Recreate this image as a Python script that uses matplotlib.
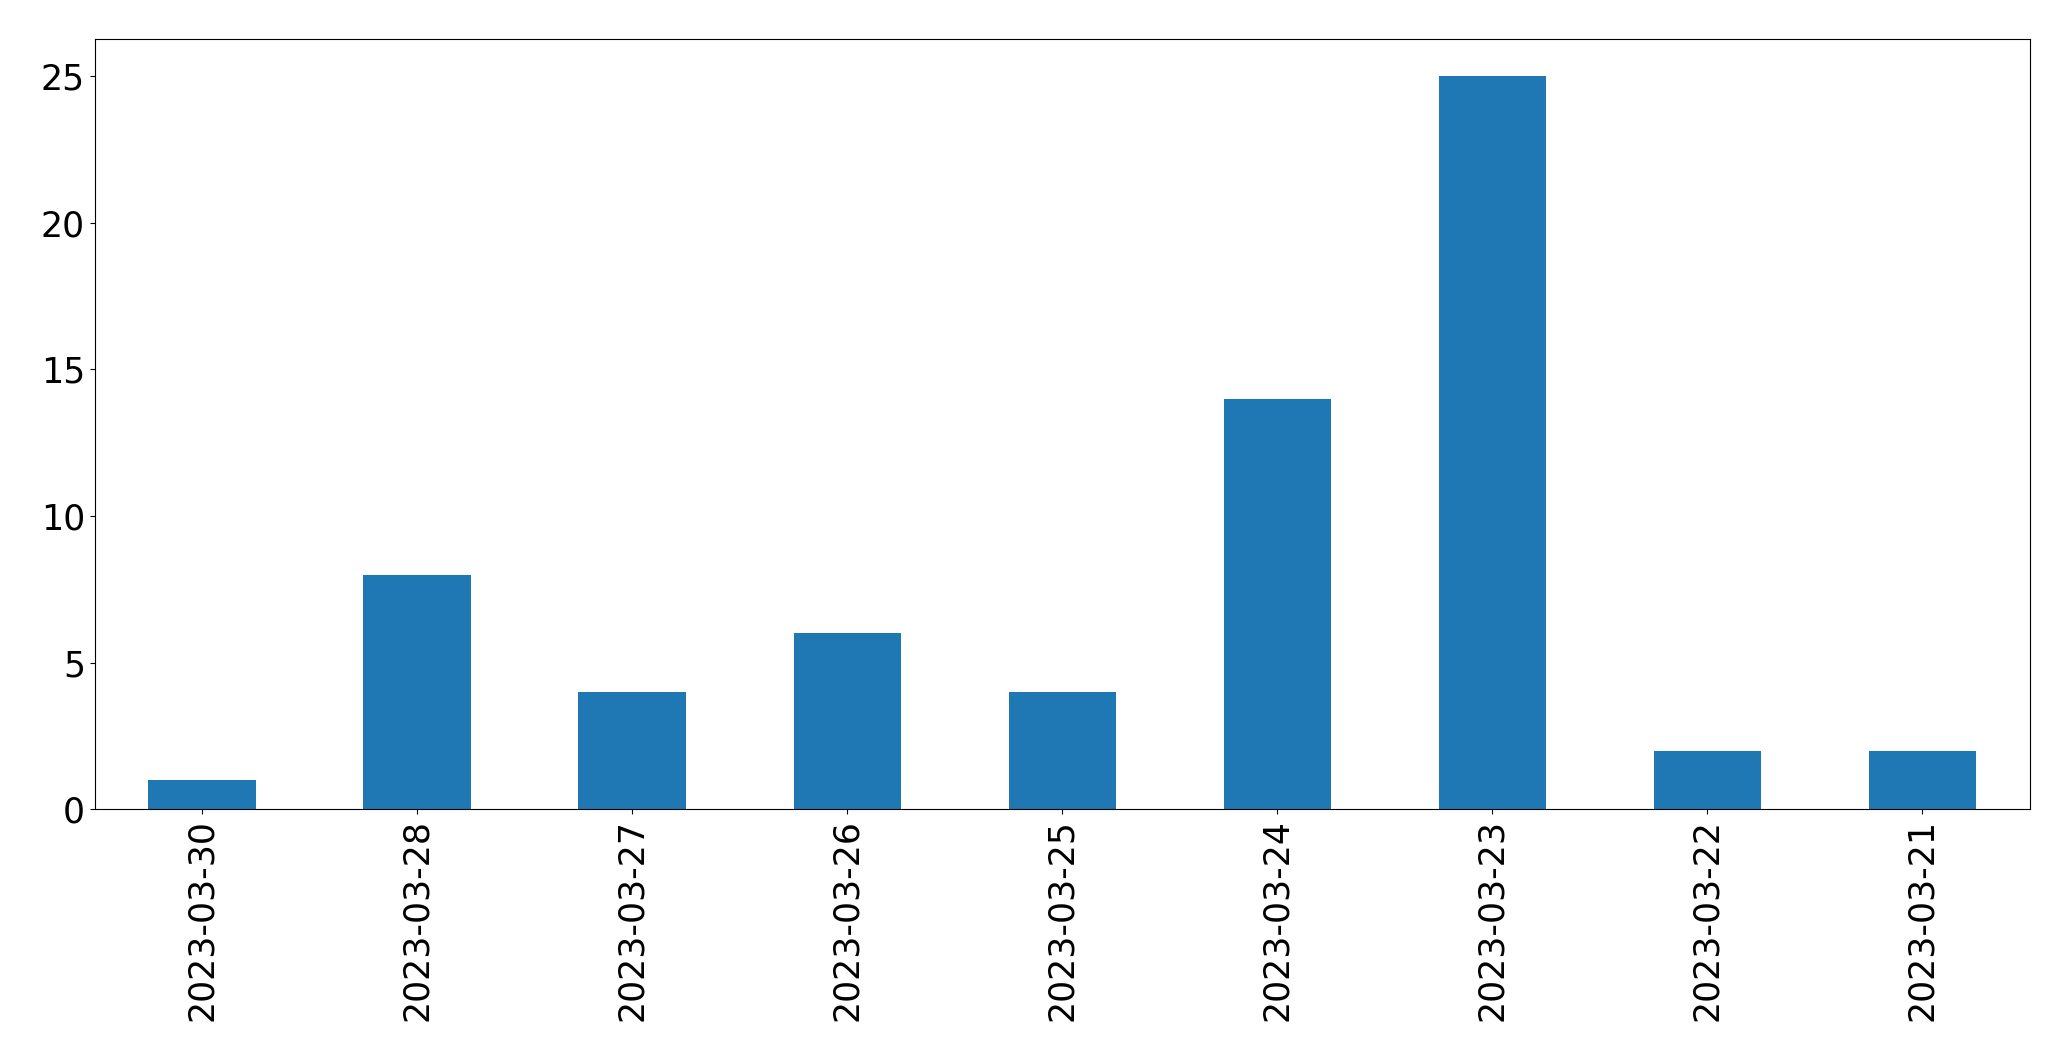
import matplotlib
matplotlib.use("Agg")
import matplotlib.pyplot as plt
import pandas as pd

# fechas y cantidades
fechas = ["2023-03-30", "2023-03-28", "2023-03-27", "2023-03-26", "2023-03-25",
          "2023-03-24", "2023-03-23", "2023-03-22", "2023-03-21"]
cantidades = [1, 8, 4, 6, 4, 14, 25, 2, 2]

serie = pd.Series(cantidades, index=fechas)

fig = plt.figure(figsize=(20.71, 10.61), dpi=100)
ax = fig.add_axes([0.0457, 0.2372, 0.9345, 0.7258])
serie.plot(kind="bar", ax=ax, color="#1f77b4", fontsize=25)
ax.set_xlabel("")

fig.savefig("out.png", dpi=100)
